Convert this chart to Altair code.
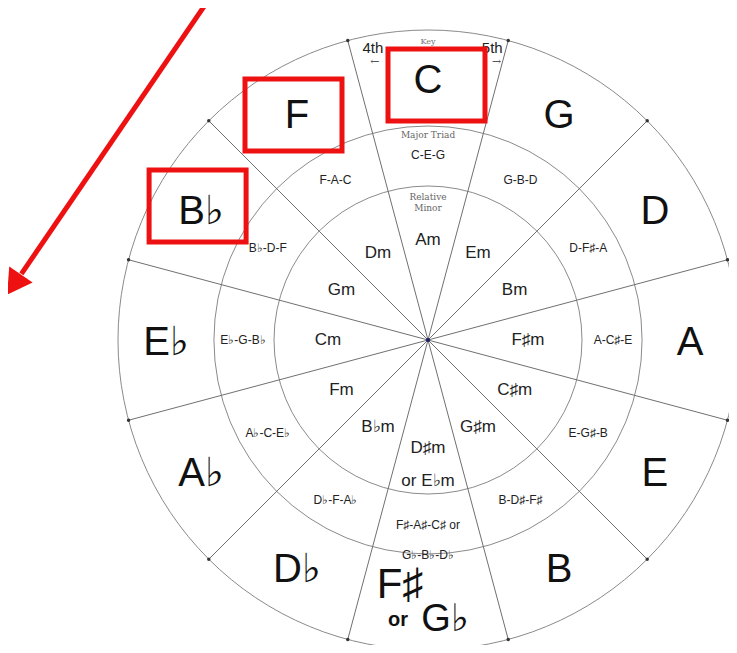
import math
import altair as alt
import pandas as pd

# ---- data ----
keys = ["C", "G", "D", "A", "E", "B", "F♯", "D♭", "A♭", "E♭", "B♭", "F"]
triads = ["C-E-G", "G-B-D", "D-F♯-A", "A-C♯-E", "E-G♯-B", "B-D♯-F♯",
          "F♯-A♯-C♯  or\nG♭-B♭-D♭", "D♭-F-A♭", "A♭-C-E♭", "E♭-G-B♭", "B♭-D-F", "F-A-C"]
minors = ["Am", "Em", "Bm", "F♯m", "C♯m", "G♯m", "D♯m\nor E♭m", "B♭m", "Fm", "Cm", "Gm", "Dm"]
ring_radii = [154, 214, 310]
highlighted = ["C", "F", "B♭"]
box_nudge_x = [8, -4, -4]
box_nudge_y = [4, -1, -6]

CX, CY = 428, 340
W, H = 721, 637


def pol(bearing_deg, r):
    b = math.radians(bearing_deg)
    return CX + r * math.sin(b), CY - r * math.cos(b)


X = lambda f: alt.X(f, type="quantitative", scale=alt.Scale(domain=[8, 8 + W]), axis=None)
Y = lambda f: alt.Y(f, type="quantitative", scale=alt.Scale(domain=[8, 8 + H], reverse=True), axis=None)
X2 = lambda f: alt.X2(f)
Y2 = lambda f: alt.Y2(f)

# rings
rings = pd.DataFrame({"cx": [CX] * 3, "cy": [CY] * 3, "r": ring_radii})
ring_layer = alt.Chart(rings).mark_arc(theta=0, theta2=6.2832, fillOpacity=0,
                                       stroke="#8a8a8a", strokeWidth=1).encode(
    x=X("cx"), y=Y("cy"),
    radius=alt.Radius("r", type="quantitative", scale=None, stack=None))

# spokes
sp = []
for k in range(12):
    b = 15 + 30 * k
    x2, y2 = pol(b, ring_radii[-1])
    sp.append({"x": CX, "y": CY, "x2": x2, "y2": y2})
spokes = pd.DataFrame(sp)
spoke_layer = alt.Chart(spokes).mark_rule(color="#707070", strokeWidth=1).encode(
    x=X("x"), y=Y("y"), x2=X2("x2"), y2=Y2("y2"))
dot_layer = alt.Chart(spokes).mark_point(filled=True, color="#333", size=12, opacity=1).encode(
    x=X("x2"), y=Y("y2"))
center_layer = alt.Chart(pd.DataFrame({"x": [CX], "y": [CY]})).mark_point(
    filled=True, color="#202060", size=18, opacity=1).encode(x=X("x"), y=Y("y"))

# labels
rows = []
for k in range(12):
    b = 30 * k
    kx, ky = pol(b, 262)
    tx, ty = pol(b, 185)
    mx, my = pol(b, 100 if k != 6 else 108)
    rows.append({"key": keys[k], "kx": kx, "ky": ky + 3,
                 "triad": triads[k].split("\n"), "tx": tx, "ty": ty,
                 "minor": minors[k].split("\n"), "mx": mx, "my": my})
lab = pd.DataFrame(rows)
lab_keys = lab[lab["key"] != "F♯"]

key_layer = alt.Chart(lab_keys).mark_text(font="Liberation Sans", fontSize=40, color="#111",
                                          baseline="middle", align="center").encode(
    x=X("kx"), y=Y("ky"), text="key:N")
triad_layer = alt.Chart(lab).mark_text(font="Liberation Sans", fontSize=12, color="#222",
                                       baseline="middle", align="center", lineHeight=30).encode(
    x=X("tx"), y=Y("ty"), text="triad")
minor_layer = alt.Chart(lab).mark_text(font="Liberation Sans", fontSize=17, color="#222",
                                       baseline="middle", align="center", lineHeight=33).encode(
    x=X("mx"), y=Y("my"), text="minor")

# F# or Gb key (bottom)
fx, fy = pol(180, 262)
fs = pd.DataFrame({"t": ["F♯", "or", "G♭"], "x": [fx - 28, fx - 30, fx + 17], "y": [fy - 17, fy + 18, fy + 18],
                   "s": [42, 20, 38]})
fs_big = alt.Chart(fs[fs["t"] != "or"]).mark_text(font="Liberation Sans", color="#111",
                                                  baseline="middle", align="center").encode(
    x=X("x"), y=Y("y"), text="t:N", size=alt.Size("s:Q", scale=None, legend=None))
fs_or = alt.Chart(fs[fs["t"] == "or"]).mark_text(font="Liberation Sans", color="#111", fontWeight="bold",
                                                 fontSize=20, baseline="middle", align="center").encode(
    x=X("x"), y=Y("y"), text="t:N")

# small annotations in the C sector (polar placement)
ann_text = ["Key", "Major Triad", "Relative", "Minor", "4th", "5th", "←", "→"]
ann_bear = [0, 0, 0, 0, -10.7, 12.4, -10.8, 13.9]
ann_r = [298, 205, 143, 132, 297, 299, 283, 286]
ann_size = [8, 9, 9, 9, 15, 15, 11, 11]
ann_col = ["#777", "#666", "#666", "#666", "#222", "#222", "#555", "#555"]
ar = []
for t, b, r, s, c in zip(ann_text, ann_bear, ann_r, ann_size, ann_col):
    x, y = pol(b, r)
    ar.append({"t": t, "x": x, "y": y, "s": s, "c": c})
ann = pd.DataFrame(ar)
ann_layer2 = alt.Chart(ann[ann["t"].isin(["4th", "5th"])]).mark_text(
    font="Liberation Sans", fontSize=15, color="#222", baseline="middle", align="center").encode(
    x=X("x"), y=Y("y"), text="t:N")
ann_small = ann[~ann["t"].isin(["4th", "5th"])]
ann_layer = alt.Chart(ann_small).mark_text(font="DejaVu Serif", baseline="middle", align="center").encode(
    x=X("x"), y=Y("y"), text="t:N",
    size=alt.Size("s:Q", scale=None, legend=None),
    color=alt.Color("c:N", scale=None, legend=None))

# red highlight boxes around key labels
bx = []
for name, nx, ny in zip(highlighted, box_nudge_x, box_nudge_y):
    r = lab[lab["key"] == name].iloc[0]
    cx, cy = r["kx"] + nx, r["ky"] + ny
    bx.append({"x": cx - 48, "x2": cx + 49, "y": cy - 36, "y2": cy + 36})
boxes = pd.DataFrame(bx)
box_layer = alt.Chart(boxes).mark_rect(fillOpacity=0, stroke="#ee1111", strokeWidth=5).encode(
    x=X("x"), x2=X2("x2"), y=Y("y"), y2=Y2("y2"))

# red arrow
arrow_start = (205, 5)
arrow_tip = (9, 292)
ux = (arrow_tip[0] - arrow_start[0]); uy = (arrow_tip[1] - arrow_start[1])
ang = math.degrees(math.atan2(ux, -uy)) % 360
L = math.hypot(ux, uy)
shaft_end = (arrow_tip[0] - ux / L * 22, arrow_tip[1] - uy / L * 22)
head_c = (arrow_tip[0] - ux / L * 13, arrow_tip[1] - uy / L * 13)
arrow_df = pd.DataFrame({"x": [arrow_start[0]], "y": [arrow_start[1]], "x2": [shaft_end[0]], "y2": [shaft_end[1]],
                         "hx": [head_c[0]], "hy": [head_c[1]]})
arrow_line = alt.Chart(arrow_df).mark_rule(color="#ee1111", strokeWidth=5).encode(
    x=X("x"), y=Y("y"), x2=X2("x2"), y2=Y2("y2"))
arrow_head = alt.Chart(arrow_df).mark_point(shape="triangle", filled=True, color="#ee1111",
                                            size=800, opacity=1, angle=ang).encode(
    x=X("hx"), y=Y("hy"))

chart = alt.layer(
    ring_layer, spoke_layer, dot_layer, center_layer,
    key_layer, triad_layer, minor_layer, fs_big, fs_or,
    ann_layer, ann_layer2, box_layer, arrow_line, arrow_head
).properties(width=W, height=H, autosize="none", padding=0, background="white"
).configure_view(stroke=None)

chart.save("out.html", embed_options={"renderer": "svg", "actions": False})
